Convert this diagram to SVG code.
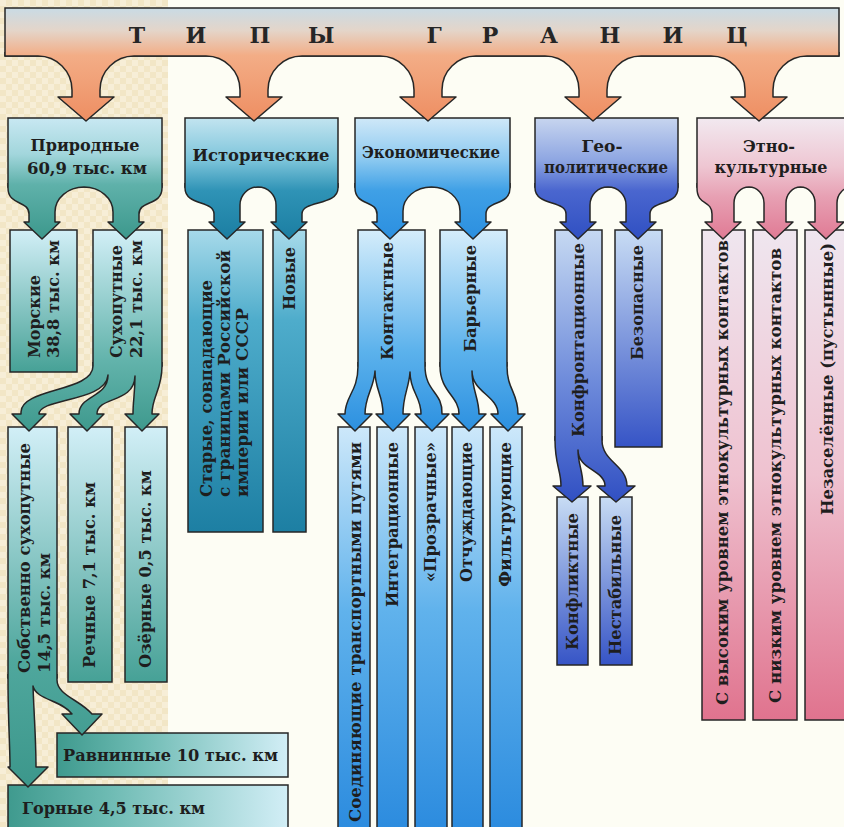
<svg xmlns="http://www.w3.org/2000/svg" xmlns:xlink="http://www.w3.org/1999/xlink" width="844" height="827" viewBox="0 0 844 827">
<defs>
<style>
.box{stroke:#262626;stroke-width:1.5}
.legfill{stroke:none}
.legline{fill:none;stroke:#262626;stroke-width:1.5;stroke-linejoin:round}
text{font-family:"DejaVu Serif","Liberation Serif",serif;font-weight:bold;fill:#1e1e1e}
.t{font-size:16px}
.title{font-size:22px;text-anchor:middle;fill:#262626}
.c{text-anchor:middle}
</style>
<pattern id="chk" width="12" height="12" patternUnits="userSpaceOnUse">
<rect width="12" height="12" fill="#f2e6c6"/>
<rect width="6" height="6" fill="#f7eed7"/>
<rect x="6" y="6" width="6" height="6" fill="#f7eed7"/>
</pattern>
<linearGradient id="gBar" x1="0" y1="8" x2="0" y2="121" gradientUnits="userSpaceOnUse">
<stop offset="0" stop-color="#c9dbe5"/><stop offset="0.2" stop-color="#e4d5c9"/><stop offset="0.42" stop-color="#f3ad86"/><stop offset="1" stop-color="#ee8e62"/>
</linearGradient>
<linearGradient id="gPrir" x1="0" y1="118" x2="0" y2="239" gradientUnits="userSpaceOnUse">
<stop offset="0" stop-color="#c8e8f2"/><stop offset="0.3" stop-color="#a2d6dc"/><stop offset="0.55" stop-color="#5fb1aa"/><stop offset="1" stop-color="#3c988c"/>
</linearGradient>
<linearGradient id="gTealV" x1="0" y1="0" x2="0" y2="1">
<stop offset="0" stop-color="#d2eff7"/><stop offset="1" stop-color="#46a196"/>
</linearGradient>
<linearGradient id="gSuh" x1="0" y1="230" x2="0" y2="431" gradientUnits="userSpaceOnUse">
<stop offset="0" stop-color="#d2eff7"/><stop offset="0.65" stop-color="#62b3ab"/><stop offset="1" stop-color="#3e998d"/>
</linearGradient>
<linearGradient id="gSob" x1="0" y1="427" x2="0" y2="788" gradientUnits="userSpaceOnUse">
<stop offset="0" stop-color="#d2eff7"/><stop offset="0.65" stop-color="#4fa79d"/><stop offset="1" stop-color="#3c978b"/>
</linearGradient>
<linearGradient id="gTealH" x1="0" y1="0" x2="1" y2="0">
<stop offset="0" stop-color="#3f9a8e"/><stop offset="0.35" stop-color="#6cbab2"/><stop offset="1" stop-color="#d2eef6"/>
</linearGradient>
<linearGradient id="gIst" x1="0" y1="118" x2="0" y2="239" gradientUnits="userSpaceOnUse">
<stop offset="0" stop-color="#c2e4f0"/><stop offset="0.35" stop-color="#7cc4da"/><stop offset="0.6" stop-color="#2f93b6"/><stop offset="1" stop-color="#1b7ea2"/>
</linearGradient>
<linearGradient id="gIstV" x1="0" y1="0" x2="0" y2="1">
<stop offset="0" stop-color="#a7daea"/><stop offset="0.3" stop-color="#4eaccb"/><stop offset="1" stop-color="#1d7fa3"/>
</linearGradient>
<linearGradient id="gEkon" x1="0" y1="118" x2="0" y2="239" gradientUnits="userSpaceOnUse">
<stop offset="0" stop-color="#cfe8f8"/><stop offset="0.35" stop-color="#8ac8f0"/><stop offset="0.6" stop-color="#3fa0e6"/><stop offset="1" stop-color="#2b8fe0"/>
</linearGradient>
<linearGradient id="gKon" x1="0" y1="230" x2="0" y2="431" gradientUnits="userSpaceOnUse">
<stop offset="0" stop-color="#d5edfb"/><stop offset="0.6" stop-color="#5cb2ec"/><stop offset="1" stop-color="#2c90e0"/>
</linearGradient>
<linearGradient id="gEkonV" x1="0" y1="0" x2="0" y2="1">
<stop offset="0" stop-color="#cde8fa"/><stop offset="0.45" stop-color="#60b2ec"/><stop offset="1" stop-color="#2a8ade"/>
</linearGradient>
<linearGradient id="gGeo" x1="0" y1="118" x2="0" y2="239" gradientUnits="userSpaceOnUse">
<stop offset="0" stop-color="#c7d5ef"/><stop offset="0.35" stop-color="#8ea6e2"/><stop offset="0.6" stop-color="#4a66cf"/><stop offset="1" stop-color="#3050c2"/>
</linearGradient>
<linearGradient id="gKonf" x1="0" y1="230" x2="0" y2="502" gradientUnits="userSpaceOnUse">
<stop offset="0" stop-color="#c6d9f2"/><stop offset="0.55" stop-color="#6f8cdb"/><stop offset="1" stop-color="#3150c3"/>
</linearGradient>
<linearGradient id="gGeoV" x1="0" y1="0" x2="0" y2="1">
<stop offset="0" stop-color="#c8dcf4"/><stop offset="1" stop-color="#3654c6"/>
</linearGradient>
<linearGradient id="gEtno" x1="0" y1="118" x2="0" y2="239" gradientUnits="userSpaceOnUse">
<stop offset="0" stop-color="#f2e9f0"/><stop offset="0.4" stop-color="#eec6d2"/><stop offset="0.65" stop-color="#e7a0b3"/><stop offset="1" stop-color="#e07a94"/>
</linearGradient>
<linearGradient id="gEtnoV" x1="0" y1="0" x2="0" y2="1">
<stop offset="0" stop-color="#efe6ef"/><stop offset="0.5" stop-color="#efc2d0"/><stop offset="1" stop-color="#e0738e"/>
</linearGradient>
<path id="lBar" d="M 5,52 V 56 H 38 A 34 34 0 0 1 72,90 V 97 H 58 L 86,121 L 114,97 H 100 V 90 A 34 34 0 0 1 134,56 H 206 A 34 34 0 0 1 240,90 V 97 H 226 L 254,121 L 282,97 H 268 V 90 A 34 34 0 0 1 302,56 H 380 A 34 34 0 0 1 414,90 V 97 H 400 L 428,121 L 456,97 H 442 V 90 A 34 34 0 0 1 476,56 H 545 A 34 34 0 0 1 579,90 V 97 H 565 L 593,121 L 621,97 H 607 V 90 A 34 34 0 0 1 641,56 H 711 A 34 34 0 0 1 745,90 V 97 H 731 L 759,121 L 787,97 H 773 V 90 A 34 34 0 0 1 807,56 H 839 V 52"/>
<path id="lPrir" d="M 8,183 V 188 C 8,206 29,200 29,214 V 222 H 24 L 42,239 L 60,222 H 55 V 212 A 29 25 0 0 1 113,212 V 222 H 108 L 126,239 L 144,222 H 139 V 214 C 139,200 162,206 162,188 V 183"/>
<path id="lIst" d="M 185,183 V 188 C 185,206 214,200 214,214 V 222 H 209 L 227,239 L 245,222 H 240 V 205 A 18 18 0 0 1 276,205 V 222 H 271 L 289,239 L 307,222 H 302 V 214 C 302,200 338,206 338,188 V 183"/>
<path id="lEkon" d="M 355,183 V 188 C 355,206 377,200 377,214 V 222 H 372 L 390,239 L 408,222 H 403 V 211 A 28.5 24 0 0 1 460,211 V 222 H 455 L 473,239 L 491,222 H 486 V 214 C 486,200 510,206 510,188 V 183"/>
<path id="lGeo" d="M 535,183 V 188 C 535,206 566,200 566,214 V 222 H 560 L 578,239 L 596,222 H 590 V 205 A 18 18 0 0 1 626,205 V 222 H 620 L 638,239 L 656,222 H 650 V 214 C 650,200 678,206 678,188 V 183"/>
<path id="lEtno" d="M 697,183 V 188 C 697,206 712,200 712,214 V 222 H 705 L 723,239 L 741,222 H 734 V 203 A 15 16 0 0 1 764,203 V 222 H 757 L 775,239 L 793,222 H 786 V 203 A 14.5 16 0 0 1 815,203 V 222 H 808 L 826,239 L 844,222 H 837 V 203 A 15 16 0 0 1 867,203 V 222 H 860 L 878,239 L 896,222 H 889 V 188 H 900 V 183"/>
<path id="lSuh" d="M 93,362 V 366 C 93,392 21,388 21,412 V 414 H 12 L 29,431 L 46,414 H 39 C 39,398 106,402 108,375 C 108,398 79,395 79,414 H 70 L 87,431 L 104,414 H 97 C 97,396 134,404 135,376 C 135,394 133,400 133,414 H 125 L 142,431 L 159,414 H 152 C 152,396 162,390 162,366 V 362"/>
<path id="lSob" d="M 8,674 V 680 C 8,720 10,745 10,767 H 8 L 28,787 L 48,767 H 36 C 36,740 34,715 33,686 C 36,700 62,700 72,714 H 62 L 82,735 L 102,714 H 92 C 80,700 57,695 57,680 V 674"/>
<path id="lKon" d="M 358,362 V 366 C 358,392 345,396 345,414 H 338 L 355,431 L 372,414 H 365 C 365,396 374,388 375,371 C 375,390 383,395 383,414 H 376 L 393,431 L 410,414 H 403 C 403,395 409,388 410,372 C 410,392 421,396 421,414 H 415 L 432,431 L 449,414 H 442 C 443,392 425,392 425,366 V 362"/>
<path id="lBar2" d="M 440,362 V 366 C 440,392 459,396 459,414 H 452 L 469,431 L 486,414 H 479 C 479,398 472,390 472,371 C 472,392 498,396 498,414 H 491 L 508,431 L 525,414 H 518 C 518,392 507,390 507,366 V 362"/>
<path id="lKonf" d="M 555,436 V 440 C 555,465 561,470 561,486 H 553 L 572,502 L 591,486 H 583 C 583,470 578,465 578,450 C 578,470 605,470 605,486 H 597 L 616,502 L 635,486 H 627 C 627,465 602,462 602,440 V 436"/>
</defs>

<rect width="844" height="827" fill="#fdfdf4"/>
<rect width="168" height="827" fill="url(#chk)"/>

<g id="n-title">
<rect class="box" x="5" y="8" width="834" height="48" fill="url(#gBar)"/>
<text class="title" y="43"><tspan x="137 196 260 325">ТИПЫ</tspan> <tspan x="434 490 549 610 673 737">ГРАНИЦ</tspan></text>
</g>

<g id="n-prirodnye">
<rect class="box" x="8" y="118" width="154" height="69" fill="url(#gPrir)"/>
<text class="t c" x="85" y="151" textLength="109" lengthAdjust="spacingAndGlyphs">Природные</text>
<text class="t c" x="87" y="174" textLength="120" lengthAdjust="spacingAndGlyphs">60,9 тыс. км</text>
</g>
<g id="n-istoricheskie">
<rect class="box" x="185" y="118" width="153" height="69" fill="url(#gIst)"/>
<text class="t c" x="261" y="161" textLength="137" lengthAdjust="spacingAndGlyphs">Исторические</text>
</g>
<g id="n-ekonomicheskie">
<rect class="box" x="355" y="118" width="155" height="69" fill="url(#gEkon)"/>
<text class="t c" x="431" y="158" textLength="138" lengthAdjust="spacingAndGlyphs">Экономические</text>
</g>
<g id="n-geopoliticheskie">
<rect class="box" x="535" y="118" width="143" height="69" fill="url(#gGeo)"/>
<text class="t c" x="602" y="152" textLength="41" lengthAdjust="spacingAndGlyphs">Гео-</text>
<text class="t c" x="606" y="173" textLength="124" lengthAdjust="spacingAndGlyphs">политические</text>
</g>
<g id="n-etnokulturnye">
<rect class="box" x="697" y="118" width="203" height="69" fill="url(#gEtno)"/>
<text class="t c" x="769" y="152" textLength="52" lengthAdjust="spacingAndGlyphs">Этно-</text>
<text class="t c" x="771" y="173" textLength="113" lengthAdjust="spacingAndGlyphs">культурные</text>
</g>

<g id="n-morskie">
<rect class="box" x="10" y="230" width="67" height="142" fill="url(#gTealV)"/>
<text class="t" x="40" y="358" transform="rotate(-90 40 358)" textLength="83" lengthAdjust="spacingAndGlyphs">Морские</text>
<text class="t" x="59" y="358" transform="rotate(-90 59 358)" textLength="118" lengthAdjust="spacingAndGlyphs">38,8 тыс. км</text>
</g>
<g id="n-suhoputnye">
<rect class="box" x="93" y="230" width="69" height="136" fill="url(#gSuh)"/>
<text class="t" x="122" y="358" transform="rotate(-90 122 358)" textLength="113" lengthAdjust="spacingAndGlyphs">Сухопутные</text>
<text class="t" x="142" y="358" transform="rotate(-90 142 358)" textLength="118" lengthAdjust="spacingAndGlyphs">22,1 тыс. км</text>
</g>
<g id="n-starye">
<rect class="box" x="188" y="230" width="75" height="302" fill="url(#gIstV)"/>
<text class="t" x="212" y="497" transform="rotate(-90 212 497)" textLength="217" lengthAdjust="spacingAndGlyphs">Старые, совпадающие</text>
<text class="t" x="230" y="497" transform="rotate(-90 230 497)" textLength="247" lengthAdjust="spacingAndGlyphs">с границами Российской</text>
<text class="t" x="248" y="497" transform="rotate(-90 248 497)" textLength="189" lengthAdjust="spacingAndGlyphs">империи или СССР</text>
</g>
<g id="n-novye">
<rect class="box" x="273" y="230" width="33" height="302" fill="url(#gIstV)"/>
<text class="t" x="295" y="310" transform="rotate(-90 295 310)" textLength="63" lengthAdjust="spacingAndGlyphs">Новые</text>
</g>
<g id="n-kontaktnye">
<rect class="box" x="358" y="230" width="67" height="136" fill="url(#gKon)"/>
<text class="t" x="393" y="360" transform="rotate(-90 393 360)" textLength="118" lengthAdjust="spacingAndGlyphs">Контактные</text>
</g>
<g id="n-barernye">
<rect class="box" x="440" y="230" width="67" height="136" fill="url(#gKon)"/>
<text class="t" x="476" y="352" transform="rotate(-90 476 352)" textLength="107" lengthAdjust="spacingAndGlyphs">Барьерные</text>
</g>
<g id="n-konfrontacionnye">
<rect class="box" x="555" y="230" width="47" height="210" fill="url(#gKonf)"/>
<text class="t" x="584" y="437" transform="rotate(-90 584 437)" textLength="194" lengthAdjust="spacingAndGlyphs">Конфронтационные</text>
</g>
<g id="n-bezopasnye">
<rect class="box" x="615" y="230" width="47" height="217" fill="url(#gGeoV)"/>
<text class="t" x="643" y="360" transform="rotate(-90 643 360)" textLength="115" lengthAdjust="spacingAndGlyphs">Безопасные</text>
</g>
<g id="n-vysokim">
<rect class="box" x="702" y="230" width="43" height="490" fill="url(#gEtnoV)"/>
<text class="t" x="728" y="705" transform="rotate(-90 728 705)" textLength="465" lengthAdjust="spacingAndGlyphs">С высоким уровнем этнокультурных контактов</text>
</g>
<g id="n-nizkim">
<rect class="box" x="753" y="230" width="44" height="490" fill="url(#gEtnoV)"/>
<text class="t" x="781" y="703" transform="rotate(-90 781 703)" textLength="455" lengthAdjust="spacingAndGlyphs">С низким уровнем этнокультурных контактов</text>
</g>
<g id="n-nezaselennye">
<rect class="box" x="805" y="230" width="45" height="490" fill="url(#gEtnoV)"/>
<text class="t" x="833" y="515" transform="rotate(-90 833 515)" textLength="272" lengthAdjust="spacingAndGlyphs">Незаселённые (пустынные)</text>
</g>

<g id="n-sobstvenno">
<rect class="box" x="8" y="427" width="49" height="251" fill="url(#gSob)"/>
<text class="t" x="30" y="673" transform="rotate(-90 30 673)" textLength="230" lengthAdjust="spacingAndGlyphs">Собственно сухопутные</text>
<text class="t" x="50" y="673" transform="rotate(-90 50 673)" textLength="120" lengthAdjust="spacingAndGlyphs">14,5 тыс. км</text>
</g>
<g id="n-rechnye">
<rect class="box" x="68" y="427" width="44" height="255" fill="url(#gTealV)"/>
<text class="t" x="95" y="668" transform="rotate(-90 95 668)" textLength="186" lengthAdjust="spacingAndGlyphs">Речные 7,1 тыс. км</text>
</g>
<g id="n-ozernye">
<rect class="box" x="125" y="427" width="42" height="255" fill="url(#gTealV)"/>
<text class="t" x="151" y="668" transform="rotate(-90 151 668)" textLength="198" lengthAdjust="spacingAndGlyphs">Озёрные 0,5 тыс. км</text>
</g>

<g id="n-soedin">
<rect class="box" x="338" y="427" width="32" height="410" fill="url(#gEkonV)"/>
<text class="t" x="361" y="822" transform="rotate(-90 361 822)" textLength="380" lengthAdjust="spacingAndGlyphs">Соединяющие транспортными путями</text>
</g>
<g id="n-integr">
<rect class="box" x="377" y="427" width="31" height="410" fill="url(#gEkonV)"/>
<text class="t" x="398" y="607" transform="rotate(-90 398 607)" textLength="165" lengthAdjust="spacingAndGlyphs">Интеграционные</text>
</g>
<g id="n-prozr">
<rect class="box" x="415" y="427" width="32" height="410" fill="url(#gEkonV)"/>
<text class="t" x="436" y="582" transform="rotate(-90 436 582)" textLength="140" lengthAdjust="spacingAndGlyphs">«Прозрачные»</text>
</g>
<g id="n-otchuzh">
<rect class="box" x="452" y="427" width="31" height="410" fill="url(#gEkonV)"/>
<text class="t" x="472" y="582" transform="rotate(-90 472 582)" textLength="140" lengthAdjust="spacingAndGlyphs">Отчуждающие</text>
</g>
<g id="n-filtr">
<rect class="box" x="490" y="427" width="32" height="410" fill="url(#gEkonV)"/>
<text class="t" x="511" y="587" transform="rotate(-90 511 587)" textLength="145" lengthAdjust="spacingAndGlyphs">Фильтрующие</text>
</g>
<g id="n-konflikt">
<rect class="box" x="557" y="497" width="31" height="168" fill="url(#gGeoV)"/>
<text class="t" x="578" y="650" transform="rotate(-90 578 650)" textLength="137" lengthAdjust="spacingAndGlyphs">Конфликтные</text>
</g>
<g id="n-nestab">
<rect class="box" x="600" y="497" width="32" height="168" fill="url(#gGeoV)"/>
<text class="t" x="621" y="655" transform="rotate(-90 621 655)" textLength="140" lengthAdjust="spacingAndGlyphs">Нестабильные</text>
</g>

<g id="n-ravninnye">
<rect class="box" x="57" y="733" width="231" height="44" fill="url(#gTealH)"/>
<text class="t" x="63" y="761" textLength="215" lengthAdjust="spacingAndGlyphs">Равнинные 10 тыс. км</text>
</g>
<g id="n-gornye">
<rect class="box" x="8" y="785" width="280" height="52" fill="url(#gTealH)"/>
<text class="t" x="22" y="814" textLength="183" lengthAdjust="spacingAndGlyphs">Горные 4,5 тыс. км</text>
</g>

<g id="connectors">
<use xlink:href="#lBar" class="legfill" fill="url(#gBar)"/><use xlink:href="#lBar" class="legline"/>
<use xlink:href="#lPrir" class="legfill" fill="url(#gPrir)"/><use xlink:href="#lPrir" class="legline"/>
<use xlink:href="#lIst" class="legfill" fill="url(#gIst)"/><use xlink:href="#lIst" class="legline"/>
<use xlink:href="#lEkon" class="legfill" fill="url(#gEkon)"/><use xlink:href="#lEkon" class="legline"/>
<use xlink:href="#lGeo" class="legfill" fill="url(#gGeo)"/><use xlink:href="#lGeo" class="legline"/>
<use xlink:href="#lEtno" class="legfill" fill="url(#gEtno)"/><use xlink:href="#lEtno" class="legline"/>
<use xlink:href="#lSuh" class="legfill" fill="url(#gSuh)"/><use xlink:href="#lSuh" class="legline"/>
<use xlink:href="#lSob" class="legfill" fill="url(#gSob)"/><use xlink:href="#lSob" class="legline"/>
<use xlink:href="#lKon" class="legfill" fill="url(#gKon)"/><use xlink:href="#lKon" class="legline"/>
<use xlink:href="#lBar2" class="legfill" fill="url(#gKon)"/><use xlink:href="#lBar2" class="legline"/>
<use xlink:href="#lKonf" class="legfill" fill="url(#gKonf)"/><use xlink:href="#lKonf" class="legline"/>
</g>
</svg>
